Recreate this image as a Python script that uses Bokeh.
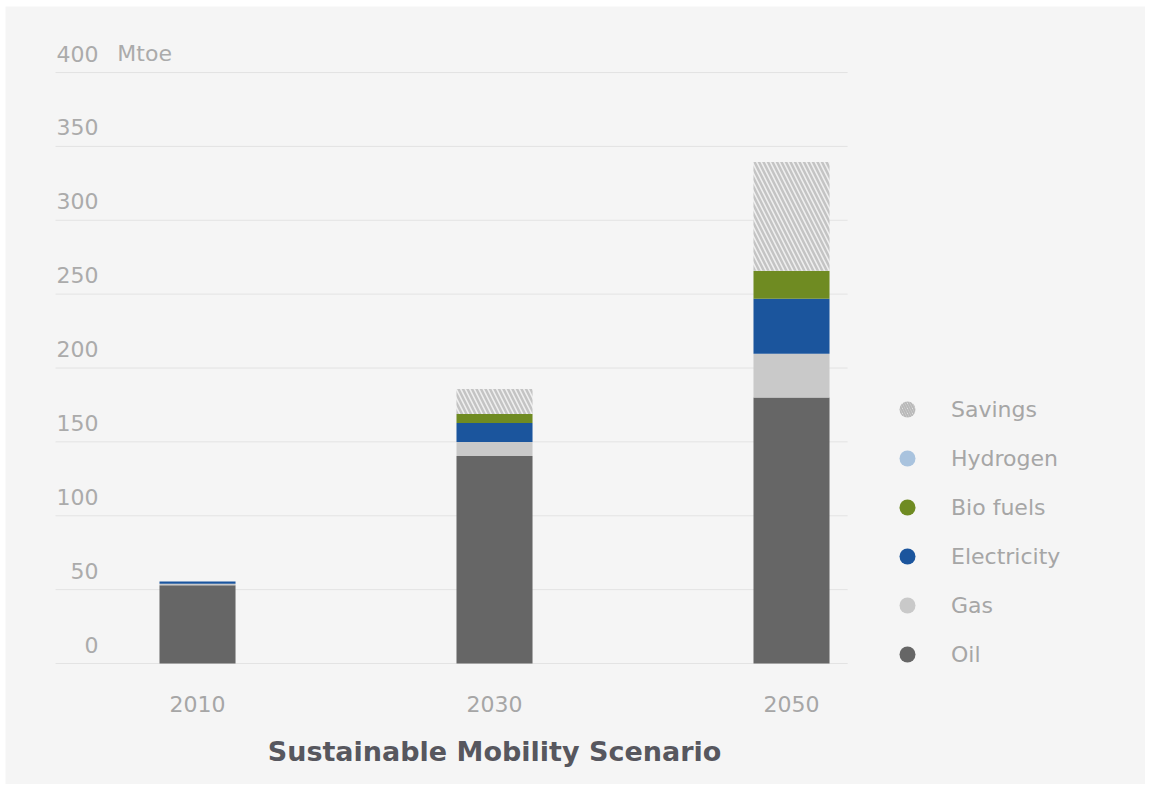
from bokeh.plotting import figure
from bokeh.models import ColumnDataSource, Range1d, Legend, LegendItem
from bokeh.core.properties import value
from bokeh.embed import file_html
from bokeh.resources import INLINE

years = ["2010", "2030", "2050"]
oil = [53, 140.5, 180]
gas = [1, 9.5, 29.7]
electricity = [1.5, 12.8, 37.2]
bio_fuels = [0, 6, 18.9]
hydrogen = [0, 0, 0]
savings = [0, 17, 73.6]
y_ticks = [0, 50, 100, 150, 200, 250, 300, 350, 400]
unit = "Mtoe"
x_title = "Sustainable Mobility Scenario"

series = ["Oil", "Gas", "Electricity", "Bio fuels", "Hydrogen"]
colors = ["#666666", "#c9c9c9", "#1b559d", "#6f8b22", "#a9c3de"]

x = list(range(len(years)))
totals = [o + g + e + b + h for o, g, e, b, h in zip(oil, gas, electricity, bio_fuels, hydrogen)]
src = ColumnDataSource(dict(x=x, Oil=oil, Gas=gas, Electricity=electricity,
                            **{"Bio fuels": bio_fuels}, Hydrogen=hydrogen,
                            total=totals, top=[t + s for t, s in zip(totals, savings)]))

FONT = "DejaVu Sans"
BG = "#f5f5f5"
LABEL = "#ababab"

p = figure(width=1145, height=784, output_backend="svg", toolbar_location=None,
           x_range=Range1d(-0.6465, 3.1919), y_range=Range1d(-81.9, 444.7),
           x_axis_location=None, y_axis_location=None,
           min_border_left=5, min_border_top=6, min_border_right=0, min_border_bottom=0)
p.background_fill_color = BG
p.border_fill_color = "white"
p.outline_line_color = None
p.xgrid.visible = False
p.ygrid.visible = False

# horizontal gridlines across the plotting band
p.segment(x0=[-0.478] * len(y_ticks), x1=[2.189] * len(y_ticks), y0=y_ticks, y1=y_ticks,
          line_color="#e3e3e3", line_width=1)

p.vbar_stack(series, x="x", width=0.256, source=src, color=colors, line_color=None)
p.vbar(x="x", bottom="total", top="top", width=0.256, source=src,
       fill_color="#efefef", line_color=None,
       hatch_pattern="\\", hatch_color="#c4c4c4", hatch_scale=9, hatch_weight=2.5)

# y tick labels (sit above their gridlines)
p.text(x=[-0.3333] * len(y_ticks), y=y_ticks, text=[str(t) for t in y_ticks],
       text_align="right", text_baseline="alphabetic", y_offset=-19,
       text_font=value(FONT), text_font_size="22px", text_color=LABEL)
p.text(x=[-0.27], y=[y_ticks[-1]], text=[unit], text_align="left", text_baseline="alphabetic",
       y_offset=-19, text_font=value(FONT), text_font_size="22px", text_color=LABEL)

# x category labels and title
p.text(x=x, y=[-27.7] * len(x), text=years, text_align="center", text_baseline="middle",
       text_font=value(FONT), text_font_size="22px", text_color="#a6a6a6")
p.text(x=[1], y=[-59.6], text=[x_title], text_align="center", text_baseline="middle",
       text_font=value(FONT), text_font_style="bold", text_font_size="27px",
       text_color="#57575e")

# legend with circle markers (renderers hold an off-screen point)
sav = p.scatter(x=[-10], y=[-1000], marker="circle", size=16, fill_color=BG, line_color=None,
                hatch_pattern="\\", hatch_color="#b8b8b8", hatch_scale=5, hatch_weight=2)
items = [LegendItem(label="Savings", renderers=[sav])]
for name, c in reversed(list(zip(series, colors))):
    r = p.scatter(x=[-10], y=[-1000], marker="circle", size=16, fill_color=c, line_color=None)
    items.append(LegendItem(label=name, renderers=[r]))
legend = Legend(items=items, location=(882, 110), orientation="vertical",
                border_line_color=None, background_fill_alpha=0, padding=0, margin=0,
                glyph_width=40, glyph_height=40, label_height=20, spacing=9,
                label_standoff=24, label_text_font=FONT, label_text_font_size="22px",
                label_text_color="#a6a6a6", label_text_baseline="middle")
p.add_layout(legend, "center")

open("out.html", "w").write(file_html(p, INLINE))
